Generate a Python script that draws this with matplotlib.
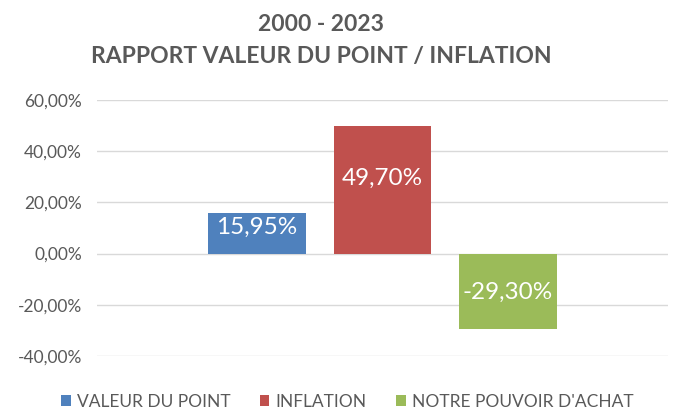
import matplotlib
matplotlib.use("Agg")
import matplotlib.pyplot as plt
from matplotlib.ticker import FuncFormatter

plt.rcParams["font.family"] = ["Lato", "DejaVu Sans"]

# data
series = ["VALEUR DU POINT", "INFLATION", "NOTRE POUVOIR D'ACHAT"]
values = [15.95, 49.70, -29.30]
colors = ["#4F81BD", "#C0504D", "#9BBB59"]
yticks = [-40, -20, 0, 20, 40, 60]

# small vertical nudges (points) for the value labels, as placed in the original
label_nudge = [4, 8, -1]

gray = "#595959"


def pct(v):
    return f"{v:.2f}%".replace(".", ",")


fig = plt.figure(figsize=(6.74, 4.08), dpi=100)
ax = fig.add_axes([0.144, 0.1275, 0.847, 0.6275])

for pos, (val, col, name, dy) in enumerate(zip(values, colors, series, label_nudge)):
    ax.bar(pos, val, width=0.78, color=col, label=name, zorder=2)
    ax.annotate(pct(val), (pos, val / 2), xytext=(0, dy), textcoords="offset points",
                ha="center", va="center", color="white", fontsize=17.5, zorder=3)

ax.set_xlim(-1.275, 3.275)
ax.set_ylim(-40, 60)
ax.set_yticks(yticks)
ax.yaxis.set_major_formatter(FuncFormatter(lambda v, p: pct(v)))
ax.set_xticks([])
ax.grid(axis="y", color="#D9D9D9", linewidth=1, zorder=0)
for s in ax.spines.values():
    s.set_visible(False)
ax.tick_params(axis="y", length=0, labelsize=12.5, labelcolor=gray, pad=11)

fig.suptitle("2000 - 2023\nRAPPORT VALEUR DU POINT / INFLATION",
             x=0.477, y=0.965, fontsize=16.5, fontweight="bold", color=gray,
             linespacing=1.65)

fig.legend(loc="lower center", bbox_to_anchor=(0.515, -0.042), ncol=3, frameon=False,
           fontsize=12.5, labelcolor=gray, handlelength=0.55, handleheight=0.55,
           handletextpad=0.35, columnspacing=1.7)

plt.savefig("out.png", dpi=100)
plt.close()
